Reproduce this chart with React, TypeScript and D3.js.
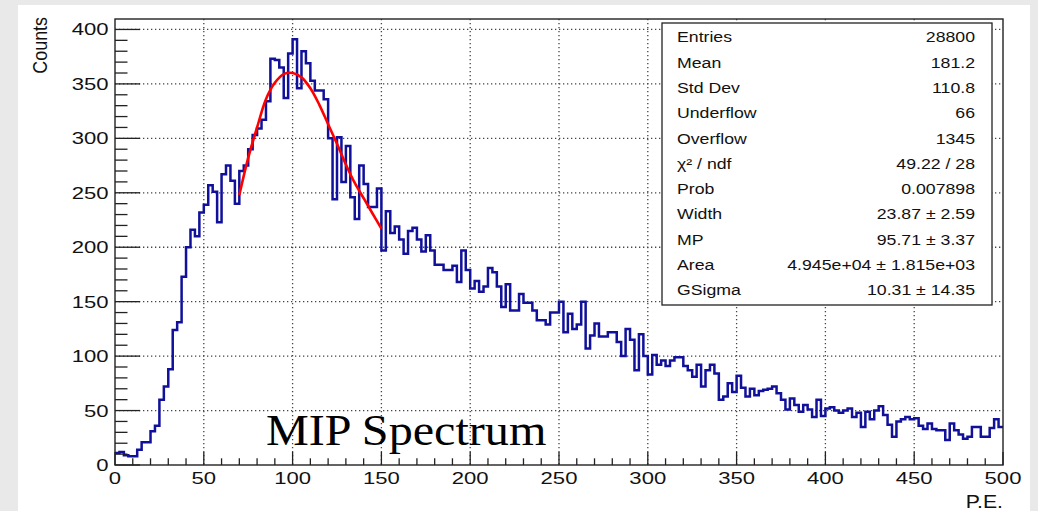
import React from "react";
import * as d3 from "d3";

// Histogram contents: 200 bins of width 2.5 from 0 to 500 (P.E.)
const binCounts: number[] = [
  11, 12, 9, 8, 8, 14, 21, 21, 31, 36,
  60, 72, 88, 124, 131, 173, 200, 216, 210, 232,
  239, 257, 251, 223, 267, 275, 261, 240, 270, 275,
  290, 303, 309, 317, 334, 373, 372, 365, 337, 378,
  391, 346, 380, 369, 353, 344, 344, 336, 300, 244,
  301, 260, 293, 246, 226, 275, 258, 237, 237, 254,
  197, 233, 213, 219, 207, 194, 215, 218, 207, 196,
  211, 197, 184, 184, 179, 179, 183, 168, 197, 179,
  162, 169, 159, 164, 181, 177, 164, 145, 166, 142,
  142, 157, 149, 149, 142, 133, 133, 129, 140, 140,
  150, 122, 139, 125, 129, 150, 107, 119, 130, 118,
  118, 122, 122, 113, 100, 125, 115, 87, 120, 100,
  83, 101, 92, 96, 91, 96, 99, 99, 91, 87,
  81, 92, 72, 87, 92, 84, 60, 63, 75, 67,
  82, 71, 63, 70, 64, 68, 69, 70, 72, 66,
  60, 51, 61, 55, 49, 55, 51, 44, 60, 45,
  52, 53, 50, 48, 50, 52, 44, 48, 35, 49,
  42, 50, 54, 46, 37, 26, 40, 42, 44, 42,
  43, 36, 33, 38, 33, 32, 32, 23, 38, 32,
  28, 24, 26, 35, 35, 26, 26, 34, 42, 35,
];
const binWidth = 2.5;
const xRange = [0, 500];

// Fit curve (Landau (x) Gauss)
const fitX: number[] = [70, 75, 80, 85, 90, 95, 100, 105, 110, 115, 120, 125, 130, 135, 140, 145, 150];
const fitY: number[] = [248, 282, 310, 336, 351, 359, 360, 356, 346, 331, 313, 295, 276, 259, 245, 231, 217];

const xTickLabels: number[] = [0, 50, 100, 150, 200, 250, 300, 350, 400, 450, 500];
const yTickLabels: number[] = [0, 50, 100, 150, 200, 250, 300, 350, 400];

const statNames: string[] = ["Entries", "Mean", "Std Dev", "Underflow", "Overflow", "χ² / ndf", "Prob", "Width", "MP", "Area", "GSigma"];
const statValues: string[] = ["28800", "181.2", "110.8", "66", "1345", "49.22 / 28", "0.007898", "23.87 ± 2.59", "95.71 ± 3.37", "4.945e+04 ± 1.815e+03", "10.31 ± 14.35"];

const xTitle = "P.E.";
const yTitle = "Counts";
const annotation = "MIP Spectrum";

const W = 1038;
const H = 511;
const frame = { left: 115, right: 1003, top: 19, bottom: 465 };
const SANS = "'Liberation Sans', Arial, Helvetica, sans-serif";
const SERIF = "'Liberation Serif', 'Times New Roman', serif";

export default function App() {
  const x = d3.scaleLinear().domain(xRange).range([frame.left, frame.right]);
  const y = d3.scaleLinear().domain([0, 409.6]).range([frame.bottom, frame.top]);

  const stepPts: [number, number][] = binCounts.map((v, i) => [i * binWidth, v]);
  stepPts.push([xRange[1], binCounts[binCounts.length - 1]]);
  const histPath = d3
    .line<[number, number]>()
    .x((d) => x(d[0]))
    .y((d) => y(d[1]))
    .curve(d3.curveStepAfter)(stepPts) as string;

  const fitPath = d3
    .line<number>()
    .x((d, i) => x(fitX[i]))
    .y((d) => y(d))
    .curve(d3.curveCatmullRom)(fitY) as string;

  const xMinor = d3.range(0, 501, 10);
  const yMinor = d3.range(0, 401, 10);

  const box = { x: 662, y: 23, w: 330, h: 282 };
  const rowH = 25.3;

  return (
    <svg
      width={W}
      height={H}
      style={{ position: "fixed", left: 0, top: 0, display: "block" }}
      xmlns="http://www.w3.org/2000/svg"
    >
      <rect x={0} y={0} width={W} height={H} fill="#e9e9e9" />
      <rect x={18} y={5} width={1012} height={H - 5} fill="#ffffff" />

      {/* grid */}
      <g stroke="#444" strokeWidth={1.3} strokeDasharray="1.3 2.7">
        {xTickLabels
          .filter((t) => t > xRange[0] && t < xRange[1])
          .map((t) => (
            <line key={"gx" + t} x1={x(t)} x2={x(t)} y1={frame.top} y2={frame.bottom} />
          ))}
        {yTickLabels
          .filter((t) => t > 0)
          .map((t) => (
            <line key={"gy" + t} x1={frame.left} x2={frame.right} y1={y(t)} y2={y(t)} />
          ))}
      </g>

      {/* histogram */}
      <path d={histPath} fill="none" stroke="#10109a" strokeWidth={2.5} strokeLinejoin="miter" />

      {/* fit */}
      <path d={fitPath} fill="none" stroke="#ff0000" strokeWidth={2.6} />

      {/* frame */}
      <rect
        x={frame.left}
        y={frame.top}
        width={frame.right - frame.left}
        height={frame.bottom - frame.top}
        fill="none"
        stroke="#222"
        strokeWidth={1.4}
      />

      {/* ticks */}
      <g stroke="#222" strokeWidth={1.3}>
        {xMinor.map((t) => {
          const major = t % 50 === 0;
          return (
            <line key={"tx" + t} x1={x(t)} x2={x(t)} y1={frame.bottom} y2={frame.bottom - (major ? 13 : 6.7)} />
          );
        })}
        {yMinor.map((t) => {
          const major = t % 50 === 0;
          return (
            <line key={"ty" + t} x1={frame.left} x2={frame.left + (major ? 25 : 12.5)} y1={y(t)} y2={y(t)} />
          );
        })}
      </g>

      {/* tick labels */}
      <g fontFamily={SANS} fontSize={17} fill="#111">
        {xTickLabels.map((t) => (
          <g key={"lx" + t} transform={`translate(${x(t)},${483.5}) scale(1.3,1)`}>
            <text textAnchor="middle">{t}</text>
          </g>
        ))}
        {yTickLabels.map((t) => (
          <g key={"ly" + t} transform={`translate(${108.5},${y(t) + 6}) scale(1.3,1)`}>
            <text textAnchor="end">{t}</text>
          </g>
        ))}
      </g>

      {/* axis titles */}
      <g fontFamily={SANS} fill="#111">
        <g transform={`translate(1003,507.5) scale(1.18,1)`}>
          <text textAnchor="end" fontSize={18}>{xTitle}</text>
        </g>
        <g transform={`translate(47,17) rotate(-90)`}>
          <g transform="scale(1,1.18)">
            <text textAnchor="end" fontSize={17.9}>{yTitle}</text>
          </g>
        </g>
      </g>

      {/* annotation */}
      <g transform={`translate(266,445) scale(1.07,1)`}>
        <text fontFamily={SERIF} fontSize={45} fill="#000">{annotation}</text>
      </g>

      {/* stats box */}
      <rect x={box.x} y={box.y} width={box.w} height={box.h} fill="#fff" stroke="#222" strokeWidth={1.3} />
      <g fontFamily={SANS} fontSize={15} fill="#111">
        {statNames.map((n, i) => (
          <g key={"sn" + i} transform={`translate(${box.x + 15},${42.3 + i * rowH}) scale(1.18,1)`}>
            <text>{n}</text>
          </g>
        ))}
        {statValues.map((v, i) => (
          <g key={"sv" + i} transform={`translate(${box.x + 313},${42.3 + i * rowH}) scale(1.18,1)`}>
            <text textAnchor="end">{v}</text>
          </g>
        ))}
      </g>
    </svg>
  );
}
